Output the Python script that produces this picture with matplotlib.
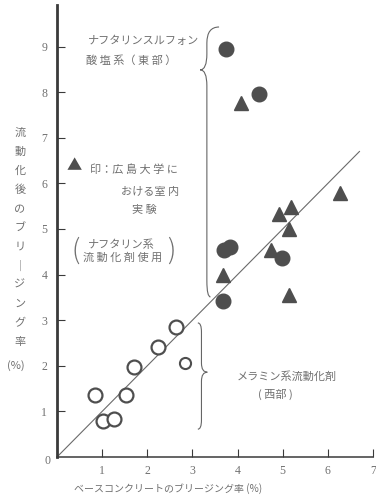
import numpy as np
import matplotlib.pyplot as plt
from matplotlib.path import Path
from matplotlib.patches import PathPatch

plt.rcParams['font.family'] = ['Noto Sans CJK JP', 'DejaVu Sans']

# melamine based superplasticizer (west) - open circles
melamine_x = [0.85, 1.01, 1.26, 1.52, 1.71, 2.24, 2.63, 2.83]
melamine_y = [1.35, 0.78, 0.84, 1.37, 1.97, 2.42, 2.85, 2.07]

# naphthalene sulfonate (east) - filled circles
naph_x = [3.75, 4.48, 3.69, 3.84, 4.98, 3.67]
naph_y = [8.94, 7.95, 4.54, 4.60, 4.37, 3.43]

# Hiroshima Univ. lab tests - filled triangles
lab_x = [4.08, 6.27, 5.18, 4.92, 5.13, 4.74, 3.67, 5.14]
lab_y = [7.76, 5.78, 5.49, 5.32, 5.00, 4.55, 4.00, 3.55]

# y = x reference line
line_x = [0, 6.7]
line_y = [0, 6.7]

x_ticks = [1, 2, 3, 4, 5, 6, 7]
y_ticks = [1, 2, 3, 4, 5, 6, 7, 8, 9]

W, H = 376, 501
TEXT = '#707070'
MARK = '#4e4e4e'
AXIS = '#3a3a3a'


def px(x, y):
    # pixel position (from top left) -> figure fraction
    return x / W, 1 - y / H


def ftext(x, y, s, size=8, ha='left', **kw):
    fx, fy = px(x, y)
    fig.text(fx, fy, s, ha=ha, va='center', fontsize=size, color=TEXT, **kw)


def brace(ax, x, y_top, y_bot, y_tip, tip_dx, end_top, end_bot, curl, **kw):
    verts = [
        (x + end_top, y_top),
        (x, y_top), (x, y_top - curl),
        (x, y_tip + curl),
        (x, y_tip), (x + tip_dx, y_tip),
        (x, y_tip), (x, y_tip - curl),
        (x, y_bot + curl),
        (x, y_bot), (x + end_bot, y_bot),
    ]
    codes = [Path.MOVETO, Path.CURVE3, Path.CURVE3, Path.LINETO,
             Path.CURVE3, Path.CURVE3, Path.CURVE3, Path.CURVE3,
             Path.LINETO, Path.CURVE3, Path.CURVE3]
    ax.add_patch(PathPatch(Path(verts, codes), fill=False, clip_on=False, **kw))


fig = plt.figure(figsize=(W / 100, H / 100), dpi=100)
fig.set_facecolor('white')
ax = fig.add_axes([57 / W, 44 / H, 316 / W, 452 / H])
ax.set_xlim(0, 7)
ax.set_ylim(0, 452 / 45.6)

ax.plot(line_x, line_y, color='#6a6a6a', lw=0.8)
# the last melamine point is printed a little smaller in the original
ax.plot(melamine_x[:-1], melamine_y[:-1], 'o', ms=10, mfc='white', mec=MARK, mew=1.6, ls='none')
ax.plot(melamine_x[-1:], melamine_y[-1:], 'o', ms=8, mfc='white', mec=MARK, mew=1.5, ls='none')
ax.plot(naph_x, naph_y, 'o', ms=10.5, color=MARK, ls='none')
ax.plot(lab_x, lab_y, '^', ms=10.5, color=MARK, ls='none')

brace(ax, 3.32, 9.43, 3.51, 8.49, -0.15, 0.27, 0.08, 0.35, color='#666666', lw=0.8)
brace(ax, 3.20, 2.94, 0.61, 1.86, 0.13, -0.08, -0.08, 0.2, color='#666666', lw=0.8)

for side in ['top', 'right']:
    ax.spines[side].set_visible(False)
ax.spines['left'].set_linewidth(2.0)
ax.spines['left'].set_color(AXIS)
ax.spines['bottom'].set_linewidth(1.1)
ax.spines['bottom'].set_color(AXIS)

ax.set_xticks(x_ticks)
ax.set_yticks(y_ticks)
ax.tick_params(direction='in', length=6, width=0.8, color=AXIS,
               labelcolor=TEXT, labelsize=8.5, pad=6)
for lab in ax.get_xticklabels() + ax.get_yticklabels():
    lab.set_family(['Liberation Serif', 'DejaVu Serif'])
ax.tick_params(axis='y', pad=7)

# origin label
ftext(48, 461, '0', size=8.5, ha='center', family=['Liberation Serif'])

# annotations
ftext(88, 41, 'ナフタリンスルフォン')
ftext(86, 61, '酸 塩 系（ 東 部 ）')
fx, fy = px(74, 166)
fig.text(fx, fy, '▲', ha='center', va='center', fontsize=11, color=MARK)
ftext(90, 170, '印：広 島 大 学 に')
ftext(121, 192, 'おける室 内')
ftext(132, 210, '実 験')
ftext(88, 245, 'ナフタリン系')
ftext(83, 258, '流 動 化 剤 使 用')
ftext(76, 251, '(', size=19, ha='center', fontweight='light')
ftext(171, 251, ')', size=19, ha='center', fontweight='light')
ftext(237, 377, 'メラミン系流動化剤')
ftext(258, 394, '( 西部 )')

# vertical y label
for i, ch in enumerate('流動化後のブリ｜ジング率'):
    ftext(20, 133 + i * 19, ch, size=8, ha='center')
ftext(16, 366, '(%)', size=8, ha='center')

# x label
ftext(168, 489, 'ベースコンクリートのブリージング率 (%)', size=7.2, ha='center')

fig.savefig('out.png', dpi=100, facecolor='white')
